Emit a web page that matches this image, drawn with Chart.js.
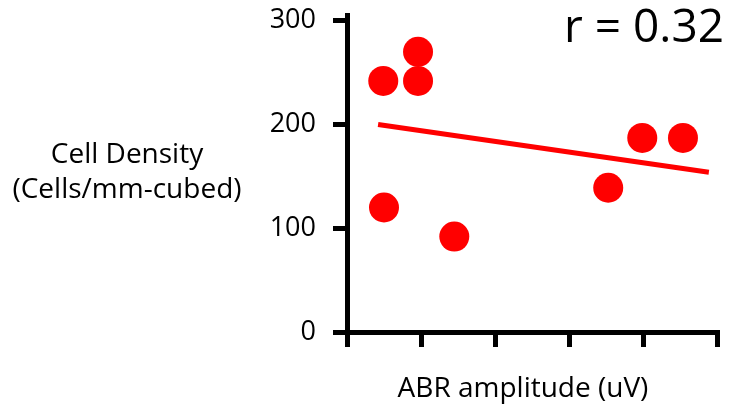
<!DOCTYPE html>
<html>
<head>
<meta charset="utf-8">
<script src="https://cdn.jsdelivr.net/npm/chart.js@4/dist/chart.umd.min.js"></script>
<style>
  html, body { margin: 0; padding: 0; background: #fff; }
  #wrap { width: 730px; height: 404px; }
</style>
</head>
<body>
<div id="wrap"><canvas id="chart" width="730" height="404"></canvas></div>
<script>
// data
const abrAmp = [0.49, 0.96, 0.96, 0.50, 1.45, 3.53, 3.99, 4.54];
const cellDensity = [242, 270, 242, 120, 92, 139, 187, 187];
const fitX = [0.42, 4.89];
const fitY = [200, 154];
const yTicks = [0, 100, 200, 300];
const xTicks = [0, 1, 2, 3, 4, 5];

const yLabel = ['Cell Density', '(Cells/mm-cubed)'];
const xLabel = 'ABR amplitude (uV)';
const rText = 'r = 0.32';

const FONT = '"Open Sans", sans-serif';

const textPlugin = {
  id: 'labels',
  afterDraw(chart) {
    const ctx = chart.ctx;
    ctx.save();
    ctx.fillStyle = '#000';
    ctx.font = '28px ' + FONT;
    ctx.textAlign = 'center';
    ctx.textBaseline = 'alphabetic';
    ctx.fillText(yLabel[0], 127, 163);
    ctx.fillText(yLabel[1], 127, 198);
    ctx.fillText(xLabel, 523, 397);
    ctx.font = '46px ' + FONT;
    ctx.textAlign = 'right';
    ctx.fillText(rText, 724, 42);
    ctx.restore();
  }
};

new Chart(document.getElementById('chart').getContext('2d'), {
  type: 'scatter',
  data: {
    datasets: [{
      type: 'line',
      label: 'fit',
      data: fitX.map((x, i) => ({ x: x, y: fitY[i] })),
      borderColor: '#ff0000',
      borderWidth: 5,
      pointRadius: 0,
      fill: false
    }, {
      label: 'cells',
      data: abrAmp.map((x, i) => ({ x: x, y: cellDensity[i] })),
      backgroundColor: '#ff0000',
      borderWidth: 0,
      pointRadius: 15,
      pointHoverRadius: 15
    }]
  },
  options: {
    responsive: false,
    animation: false,
    layout: { autoPadding: false, padding: { top: 15, right: 13, bottom: 0, left: 0 } },
    plugins: { legend: { display: false }, tooltip: { enabled: false } },
    scales: {
      x: {
        type: 'linear',
        min: 0,
        max: 5,
        afterBuildTicks: (s) => { s.ticks = xTicks.map(v => ({ value: v })); },
        afterFit: (s) => { s.height = 72; s.paddingLeft = 0; s.paddingRight = 0; },
        ticks: { callback: () => '' },
        grid: { drawOnChartArea: false, drawTicks: true, tickLength: 15, lineWidth: 5, color: '#000' },
        border: { display: true, width: 5, color: '#000' }
      },
      y: {
        type: 'linear',
        min: 0,
        max: 305.5,
        afterBuildTicks: (s) => { s.ticks = yTicks.map(v => ({ value: v })); },
        afterFit: (s) => { s.width = 347; s.paddingTop = 0; s.paddingBottom = 0; },
        ticks: { color: '#000', padding: 17, font: { family: FONT, size: 27 } },
        grid: { drawOnChartArea: false, drawTicks: true, tickLength: 14, lineWidth: 5, color: '#000' },
        border: { display: true, width: 5, color: '#000' }
      }
    }
  },
  plugins: [textPlugin]
});
</script>
</body>
</html>
